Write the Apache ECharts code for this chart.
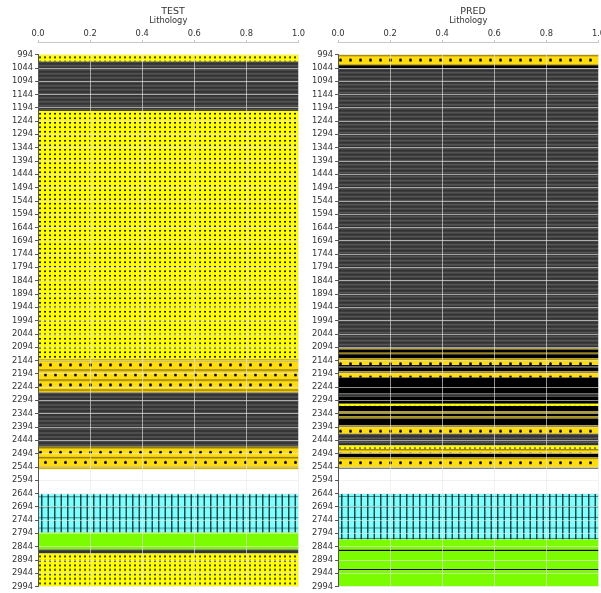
<!DOCTYPE html>
<html>
<head>
<meta charset="utf-8">
<script src="https://cdn.jsdelivr.net/npm/echarts@6/dist/echarts.min.js"></script>
<style>
  html, body { margin: 0; padding: 0; background: #fff; }
  #chart { width: 601px; height: 593px; }
</style>
</head>
<body>
<div id="chart"></div>
<script>
// Lithology classes used in the logs
const lithologyNames = ['Sandstone', 'Sandstone/Shale', 'Shale', 'Marl', 'Limestone', 'Coal'];

// TEST log: interval tops, bases (depth) and lithology
const testTop   = [994, 1020, 1206, 2140, 2265, 2469, 2647, 2791, 2855, 2870];
const testBase  = [1020, 1206, 2140, 2265, 2469, 2553, 2791, 2855, 2870, 2994];
const testLitho = ['Sandstone', 'Shale', 'Sandstone', 'Sandstone/Shale', 'Shale',
                   'Sandstone/Shale', 'Limestone', 'Marl', 'Shale', 'Sandstone'];

// PRED log: interval tops, bases (depth) and lithology
const predTop   = [994, 1034, 1046, 2098, 2103, 2115, 2121, 2136, 2161, 2167, 2173, 2186, 2208,
                   2268, 2280, 2307, 2315, 2335, 2342, 2355, 2362, 2389, 2420, 2464, 2476,
                   2493, 2508, 2548, 2646, 2817, 2856, 2861, 2928, 2933];
const predBase  = [1034, 1046, 2098, 2103, 2115, 2121, 2136, 2161, 2167, 2173, 2186, 2208, 2268,
                   2280, 2307, 2315, 2335, 2342, 2355, 2362, 2389, 2420, 2464, 2476, 2493,
                   2508, 2548, 2551, 2817, 2856, 2861, 2928, 2933, 2994];
const predLitho = ['Sandstone/Shale', 'Coal', 'Shale', 'Sandstone/Shale', 'Coal', 'Sandstone/Shale',
                   'Coal', 'Sandstone/Shale', 'Coal', 'Shale', 'Coal', 'Sandstone/Shale', 'Coal',
                   'Shale', 'Coal', 'Sandstone', 'Coal', 'Sandstone/Shale', 'Coal', 'Sandstone/Shale',
                   'Coal', 'Sandstone/Shale', 'Shale', 'Sandstone', 'Sandstone/Shale',
                   'Coal', 'Sandstone/Shale', 'Shale', 'Limestone', 'Marl', 'Coal', 'Marl', 'Coal', 'Marl'];

// Depth axis ticks
const depthMin = 994, depthMax = 2994, depthStep = 50;
const panelTitles = ['TEST', 'PRED'];

// ---- hatch tiles ----
function tile(w, h, draw) {
  const c = document.createElement('canvas');
  c.width = w; c.height = h;
  draw(c.getContext('2d'), w, h);
  return c;
}
const fills = {
  'Sandstone': tile(5, 9, (g, w, h) => {
    g.fillStyle = '#ffff00'; g.fillRect(0, 0, w, h);
    g.fillStyle = '#1a1a00';
    g.fillRect(1, 2, 2, 1.6);
    g.fillRect(1, 6.5, 2, 1.6);
  }),
  'Sandstone/Shale': tile(10, 20, (g, w, h) => {
    g.fillStyle = '#ffdc10'; g.fillRect(0, 0, w, h);
    g.fillStyle = 'rgba(110,90,0,0.75)';
    g.fillRect(0, 0, w, 1.5);
    g.fillRect(0, 10, w, 1.5);
    g.fillStyle = '#000';
    g.beginPath(); g.arc(2.5, 5.5, 1.5, 0, Math.PI * 2); g.fill();
    g.beginPath(); g.arc(7.5, 15.5, 1.5, 0, Math.PI * 2); g.fill();
  }),
  'Shale': tile(4, 4, (g, w) => {
    g.fillStyle = '#5c5c5c'; g.fillRect(0, 0, w, 1);
    g.fillStyle = '#393939'; g.fillRect(0, 1, w, 1);
    g.fillStyle = '#2f2f2f'; g.fillRect(0, 2, w, 1);
    g.fillStyle = '#444444'; g.fillRect(0, 3, w, 1);
  }),
  'Marl': '#7cfc00',
  'Limestone': tile(13, 21, (g, w, h) => {
    g.fillStyle = '#80ffff'; g.fillRect(0, 0, w, h);
    g.fillStyle = 'rgba(0,30,30,0.8)';
    g.fillRect(3, 0, 1.5, h);
    g.fillRect(9.5, 0, 1.5, h);
    g.fillStyle = 'rgba(0,30,30,0.55)';
    g.fillRect(0, 2, w, 1);
    g.fillRect(0, 12.5, w, 1);
  }),
  'Coal': '#000000'
};

function intervals(tops, bases, lith) {
  return tops.map((t, i) => [t, bases[i], lithologyNames.indexOf(lith[i])]);
}

// each interval is a rectangle across the track; hatch tiles start at the interval top
function renderInterval(params, api) {
  const p0 = api.coord([0, api.value(0)]);
  const p1 = api.coord([1, api.value(1)]);
  const f = fills[lithologyNames[api.value(2)]];
  const fill = typeof f === 'string' ? f : { image: f, repeat: 'repeat', x: p0[0], y: p0[1] };
  return {
    type: 'rect',
    shape: { x: p0[0], y: p0[1], width: p1[0] - p0[0], height: p1[1] - p0[1] },
    style: { fill: fill }
  };
}

const font = 'DejaVu Sans';
const gridLeft = [38, 338];
const grids = gridLeft.map(l => ({
  left: l, width: 260.5, top: 54.5, height: 532,
  containLabel: false, outerBoundsMode: 'none'
}));
const gridLine = { show: true, lineStyle: { color: 'rgba(232,232,232,0.62)', width: 1 } };

const xAxes = grids.map((g, i) => ({
  type: 'value', gridIndex: i, position: 'top', offset: 12, z: 5,
  min: 0, max: 1, interval: 0.2,
  name: 'Lithology', nameLocation: 'middle', nameGap: 9,
  nameTextStyle: { fontFamily: font, fontSize: 8.3, color: '#333' },
  axisLine: { show: true, lineStyle: { color: '#c8c8c8', width: 1 } },
  axisTick: { show: true, length: 2.5, lineStyle: { color: '#c8c8c8' } },
  axisLabel: { fontFamily: font, fontSize: 8.3, color: '#333', margin: 5,
               formatter: v => v.toFixed(1) },
  splitLine: gridLine
}));

const yAxes = grids.map((g, i) => ({
  type: 'value', gridIndex: i, inverse: true, z: 5,
  min: depthMin, max: depthMax, interval: depthStep,
  axisLine: { show: true, onZero: false, lineStyle: { color: '#555', width: 1 } },
  axisTick: { show: true, length: 3, lineStyle: { color: '#555' } },
  axisLabel: { fontFamily: font, fontSize: 8.3, color: '#333', margin: 5,
               formatter: v => String(v) },
  splitLine: gridLine
}));

const chart = echarts.init(document.getElementById('chart'), null, { renderer: 'canvas' });
chart.setOption({
  animation: false,
  backgroundColor: '#ffffff',
  title: panelTitles.map((t, i) => ({
    text: t, left: gridLeft[i] + 130, top: 2, textAlign: 'center',
    textStyle: { fontFamily: font, fontSize: 9.5, fontWeight: 'normal', color: '#333' }
  })),
  grid: grids,
  xAxis: xAxes,
  yAxis: yAxes,
  series: [
    { type: 'custom', xAxisIndex: 0, yAxisIndex: 0, clip: true, encode: { y: [0, 1] },
      renderItem: renderInterval, data: intervals(testTop, testBase, testLitho) },
    { type: 'custom', xAxisIndex: 1, yAxisIndex: 1, clip: true, encode: { y: [0, 1] },
      renderItem: renderInterval, data: intervals(predTop, predBase, predLitho) }
  ]
});
</script>
</body>
</html>
